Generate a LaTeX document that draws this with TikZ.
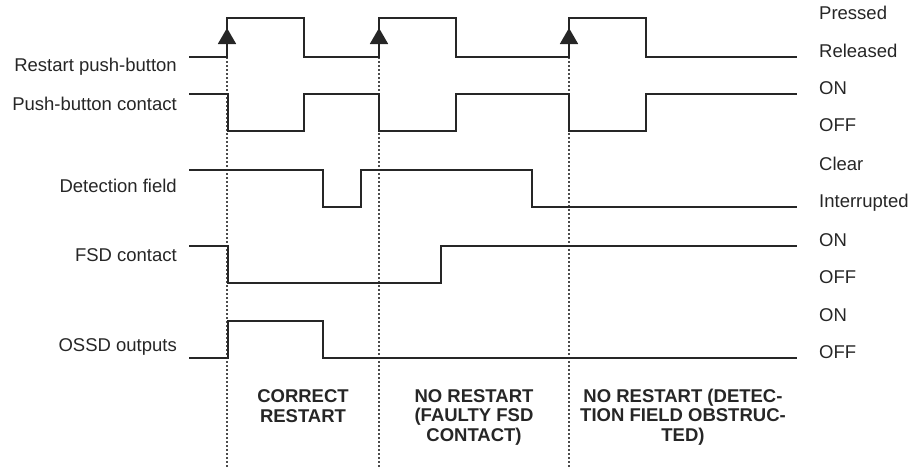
\documentclass[tikz,border=0pt]{standalone}
\usepackage{fontspec}
\setmainfont{Liberation Sans}
\usetikzlibrary{arrows.meta,positioning}

\begin{document}
\begin{tikzpicture}[
    x=1pt, y=-1pt,
    font=\fontsize{18.5}{19.5}\selectfont,
    signal/.style={line width=1.8pt, draw=black!85},
    marker/.style={draw=black!70, line width=1.3pt, dash pattern=on 2pt off 2pt},
    arrow/.style={-{Triangle[length=16pt,width=18pt]}, line width=1.8pt, black!85},
    signame/.style={anchor=base east, inner sep=0pt, text=black!85},
    state/.style={anchor=base west, inner sep=0pt, text=black!85},
    case/.style={anchor=base, align=center, inner sep=0pt, text=black!85, font=\fontsize{18.5}{19.5}\selectfont\bfseries}
]
\useasboundingbox (0,0) rectangle (924,467);

% Signal names
\node[signame] (restartBtn) at (177,71) {Restart push-button};
\node[signame] (btnContact) at (177,110) {Push-button contact};
\node[signame] (detField) at (177,192) {Detection field};
\node[signame] (fsdContact) at (177,261) {FSD contact};
\node[signame] (ossdOut) at (177,351) {OSSD outputs};

% States
\node[state] (pressed) at (819,19) {Pressed};
\node[state] (released) at (819,57) {Released};
\node[state] (contactOn) at (819,94) {ON};
\node[state] (contactOff) at (819,131) {OFF};
\node[state] (clear) at (819,170) {Clear};
\node[state] (interrupted) at (819,207) {Interrupted};
\node[state] (fsdOn) at (819,246) {ON};
\node[state] (fsdOff) at (819,283) {OFF};
\node[state] (ossdOn) at (819,321) {ON};
\node[state] (ossdOff) at (819,358) {OFF};

% Time markers
\draw[marker] (227,57) -- (227,467);
\draw[marker] (379,57) -- (379,467);
\draw[marker] (569,57) -- (569,467);

% Signals
\draw[signal] (189,57) -- (227,57) -- (227,18) -- (304,18) -- (304,57) -- (379,57) -- (379,18) -- (456,18) -- (456,57)
    -- (569,57) -- (569,18) -- (646,18) -- (646,57) -- (797,57);
\draw[signal] (189,94) -- (228,94) -- (228,131) -- (304,131) -- (304,94) -- (379,94) -- (379,131) -- (456,131) -- (456,94)
    -- (569,94) -- (569,131) -- (646,131) -- (646,94) -- (797,94);
\draw[signal] (189,170) -- (323,170) -- (323,207) -- (361,207) -- (361,170) -- (532,170) -- (532,207) -- (797,207);
\draw[signal] (189,246) -- (228,246) -- (228,283) -- (441,283) -- (441,246) -- (797,246);
\draw[signal] (189,358) -- (228,358) -- (228,321) -- (323,321) -- (323,358) -- (797,358);

% Restart requests
\draw[arrow] (227,57) -- (227,28);
\draw[arrow] (379,57) -- (379,28);
\draw[arrow] (569,57) -- (569,28);

% Cases (anchored on the last line)
\node[case] (caseCorrect) at (303,422) {CORRECT\\RESTART};
\node[case] (caseFaulty) at (474,441) {NO RESTART\\(FAULTY FSD\\CONTACT)};
\node[case] (caseObstructed) at (683,441) {NO RESTART (DETEC-\\TION FIELD OBSTRUC-\\TED)};

\end{tikzpicture}
\end{document}
